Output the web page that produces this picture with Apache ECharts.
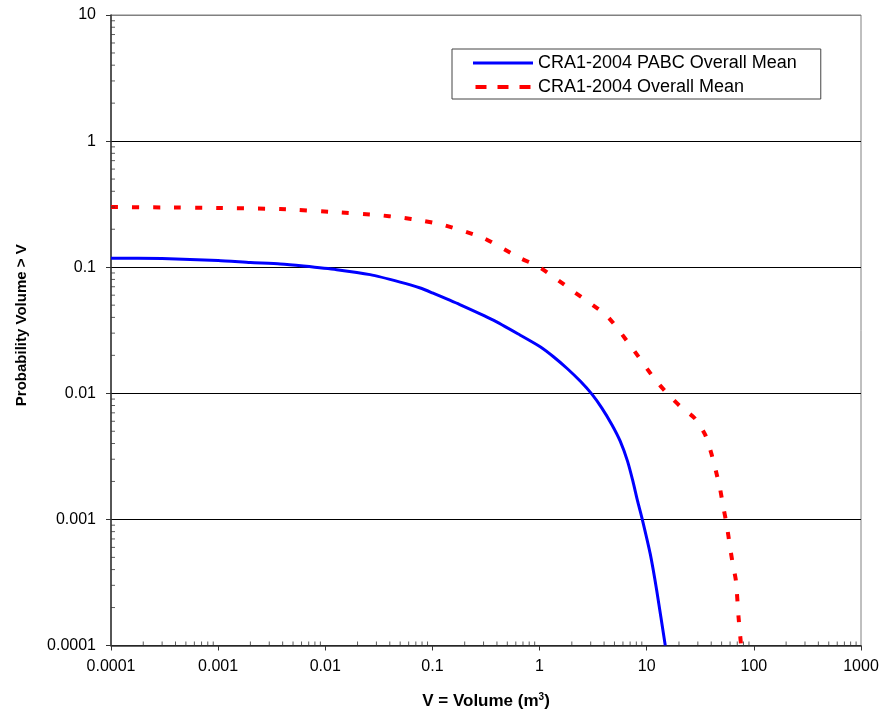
<!DOCTYPE html>
<html>
<head>
<meta charset="utf-8">
<script src="https://cdn.jsdelivr.net/npm/echarts@6/dist/echarts.min.js"></script>
<style>html,body{margin:0;padding:0;background:#fff;}#c{width:885px;height:715px;}</style>
</head>
<body>
<div id="c"></div>
<script>
// ---- Data ----
const seriesNames = ['CRA1-2004 PABC Overall Mean', 'CRA1-2004 Overall Mean'];

const pabcVolume = [0.0001, 0.0003, 0.001, 0.002, 0.0038, 0.00625, 0.0128, 0.0262, 0.05, 0.077, 0.1, 0.18, 0.37, 0.66, 1.013, 1.348, 1.798, 2.394, 3.078, 3.816, 4.732, 5.657, 6.618, 7.43, 8.21, 9.02, 10.8, 12.4, 14.9];
const pabcProb   = [0.118, 0.117, 0.113, 0.109, 0.106, 0.102, 0.0955, 0.0873, 0.0762, 0.0684, 0.0625, 0.0505, 0.038, 0.0289, 0.0234, 0.0195, 0.0158, 0.0125, 0.00984, 0.00763, 0.00563, 0.00417, 0.0029, 0.00201, 0.0014, 0.00103, 0.00053, 0.000273, 0.0001];

const craVolume = [0.0001, 0.0003, 0.001, 0.0038, 0.0128, 0.0311, 0.05, 0.0797, 0.127, 0.3, 0.66, 1.0, 2.07, 4.25, 7.0, 11.6, 15.5, 20.6, 28.4, 35.1, 40, 44.3, 48.5, 52, 56, 59.3, 63.2, 68, 72, 76];
const craProb   = [0.300, 0.298, 0.295, 0.289, 0.273, 0.259, 0.248, 0.234, 0.216, 0.170, 0.118, 0.100, 0.0643, 0.0411, 0.0241, 0.0133, 0.0100, 0.00787, 0.00628, 0.0047, 0.00336, 0.00241, 0.00173, 0.00124, 0.00089, 0.00064, 0.000456, 0.000327, 0.000167, 0.0001];

const xTickLabels = ['0.0001', '0.001', '0.01', '0.1', '1', '10', '100', '1000'];
const yTickLabels = ['0.0001', '0.001', '0.01', '0.1', '1', '10'];

// minor tick positions (2..9 in each decade)
const xMinor = [], yMinor = [];
for (let e = -4; e < 3; e++) for (let m = 2; m <= 9; m++) xMinor.push([m * Math.pow(10, e), 0.0001]);
for (let e = -4; e < 1; e++) for (let m = 2; m <= 9; m++) yMinor.push([0.0001, m * Math.pow(10, e)]);

const FONT = '"Liberation Sans", Arial, sans-serif';
const chart = echarts.init(document.getElementById('c'), null, {renderer: 'canvas'});

chart.setOption({
  backgroundColor: '#fff',
  animation: false,
  grid: {left: 111, right: 24, top: 15, bottom: 66, show: true, borderColor: '#808080', borderWidth: 1, backgroundColor: 'transparent'},
  legend: {
    left: 452, top: 49, orient: 'vertical',
    data: [
      {name: seriesNames[0], icon: 'path://M0,0H60V3H0Z'},
      {name: seriesNames[1], icon: 'path://M0,0H11V4H0ZM22,0H33V4H22ZM44,0H55V4H44Z'}
    ],
    borderColor: '#444', borderWidth: 1,
    padding: [5, 24, 3, 21],
    itemWidth: 60, itemHeight: 4, itemGap: 6,
    textStyle: {fontSize: 18, color: '#000', fontFamily: FONT},
    selectedMode: false
  },
  xAxis: {
    type: 'log', logBase: 10, min: 0.0001, max: 1000, interval: 1,
    name: 'V = Volume (m{sup|3})', nameLocation: 'middle', nameGap: 47,
    nameTextStyle: {fontSize: 17, fontWeight: 'bold', color: '#000', fontFamily: FONT,
      rich: {sup: {fontSize: 10, fontWeight: 'bold', verticalAlign: 'top', padding: [0, 0, 8, 0], fontFamily: FONT}}},
    axisLine: {show: true, onZero: false, lineStyle: {color: '#333', width: 1.5}},
    axisTick: {show: true, length: 5, lineStyle: {color: '#333'}},
    axisLabel: {fontSize: 16, color: '#000', fontFamily: FONT, margin: 13,
      formatter: v => xTickLabels[Math.round(Math.log10(v)) + 4]},
    splitLine: {show: false}
  },
  yAxis: {
    type: 'log', logBase: 10, min: 0.0001, max: 10, interval: 1,
    name: 'Probability Volume > V', nameLocation: 'middle', nameGap: 82, nameRotate: 90,
    nameTextStyle: {fontSize: 15, fontWeight: 'bold', color: '#000', fontFamily: FONT, padding: [0, 0, 0, 10]},
    axisLine: {show: true, onZero: false, lineStyle: {color: '#333', width: 1.5}},
    axisTick: {show: true, length: 5, lineStyle: {color: '#333'}},
    axisLabel: {fontSize: 16, color: '#000', fontFamily: FONT, margin: 15,
      formatter: v => yTickLabels[Math.round(Math.log10(v)) + 4]},
    splitLine: {show: true, lineStyle: {color: ['#000', '#000', '#000', '#000', '#000', '#808080'], width: 1}}
  },
  series: [
    {
      name: seriesNames[0], type: 'line', symbol: 'none', smooth: 0.2,
      data: pabcVolume.map((x, i) => [x, pabcProb[i]]),
      lineStyle: {color: '#0000ff', width: 3}, itemStyle: {color: '#0000ff'}, z: 3
    },
    {
      name: seriesNames[1], type: 'line', symbol: 'none', smooth: 0.2,
      data: craVolume.map((x, i) => [x, craProb[i]]),
      lineStyle: {color: '#ff0000', width: 4, type: [7, 14]}, itemStyle: {color: '#ff0000'}, z: 3
    },
    {
      type: 'scatter', silent: true, symbol: 'rect', symbolSize: [1, 4], symbolOffset: [0, -2],
      data: xMinor, itemStyle: {color: '#333'}, z: 4, clip: false
    },
    {
      type: 'scatter', silent: true, symbol: 'rect', symbolSize: [4, 1], symbolOffset: [2, 0],
      data: yMinor, itemStyle: {color: '#333'}, z: 4, clip: false
    }
  ]
});
</script>
</body>
</html>
